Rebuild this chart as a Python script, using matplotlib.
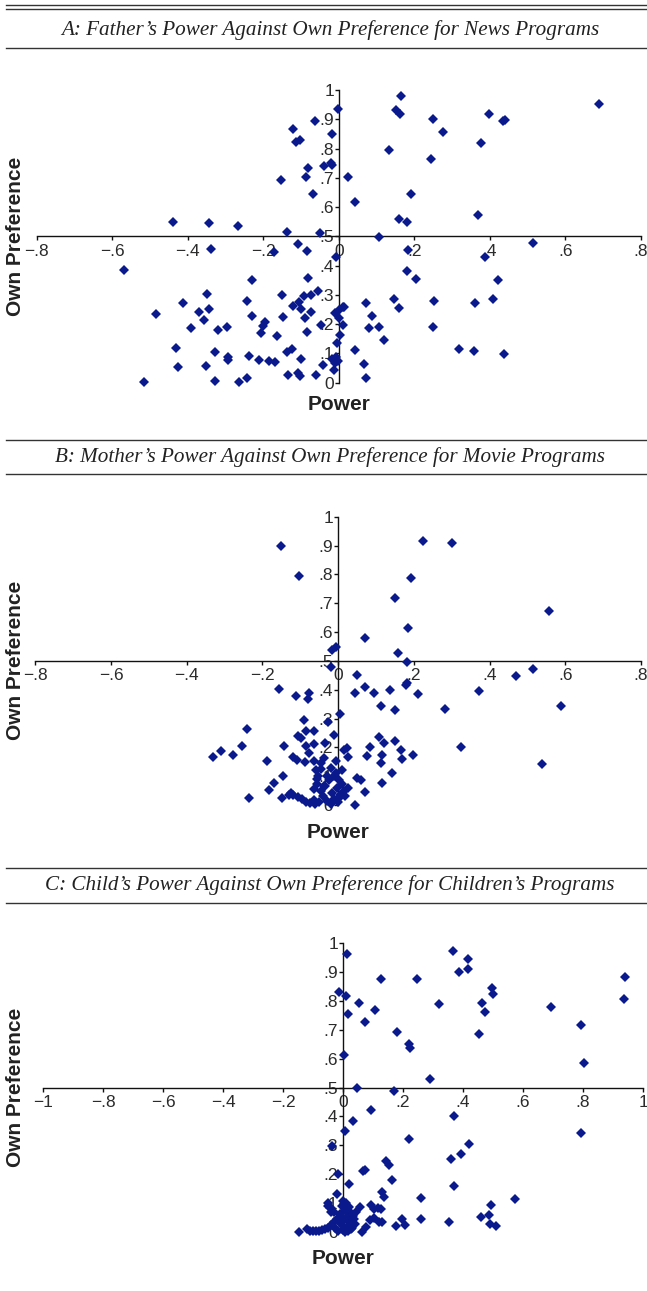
import matplotlib
matplotlib.use("Agg")
import matplotlib.pyplot as plt
from matplotlib.lines import Line2D

# ---- data ----
title_a = "A: Father\u2019s Power Against Own Preference for News Programs"
title_b = "B: Mother\u2019s Power Against Own Preference for Movie Programs"
title_c = "C: Child\u2019s Power Against Own Preference for Children\u2019s Programs"

x_ticks_ab = [-0.8, -0.6, -0.4, -0.2, 0, 0.2, 0.4, 0.6, 0.8]
x_labels_ab = ["\u2212.8", "\u2212.6", "\u2212.4", "\u2212.2", "0", ".2", ".4", ".6", ".8"]
x_ticks_c = [-1, -0.8, -0.6, -0.4, -0.2, 0, 0.2, 0.4, 0.6, 0.8, 1]
x_labels_c = ["\u22121", "\u2212.8", "\u2212.6", "\u2212.4", "\u2212.2", "0", ".2", ".4", ".6", ".8", "1"]
y_ticks = [0, 0.1, 0.2, 0.3, 0.4, 0.5, 0.6, 0.7, 0.8, 0.9, 1]
y_labels = ["0", ".1", ".2", ".3", ".4", ".5", ".6", ".7", ".8", ".9", "1"]

a_power = [-0.440, -0.343, -0.266, -0.136, -0.002, -0.121, -0.114, -0.104, -0.064, -0.019,
           -0.081, -0.086, -0.040, -0.022, -0.018, -0.068, -0.152, 0.024, -0.050, -0.108,
           -0.084, -0.173, -0.338, -0.008, -0.568, -0.081, -0.229, -0.349, -0.151, -0.054,
           -0.073, -0.093, -0.105, -0.121, -0.100, -0.074, -0.090, -0.413, -0.485, -0.369,
           -0.343, -0.358, -0.392, -0.319, -0.296, -0.244, -0.229, -0.196, -0.202, -0.207,
           -0.163, -0.147, -0.085, -0.048, -0.431, -0.427, -0.516, -0.328, -0.352, -0.327,
           -0.293, -0.293, -0.264, -0.242, -0.239, -0.211, -0.185, -0.170, -0.136, -0.125,
           -0.099, -0.135, -0.108, -0.103, -0.060, -0.043, -0.013, -0.009, 0.000, 0.011,
           0.000, 0.011, 0.004, -0.005, -0.018, -0.007, -0.002, -0.009, 0.042, 0.164,
           0.151, 0.161, 0.132, 0.248, 0.277, 0.245, 0.192, 0.158, 0.181, 0.107,
           0.398, 0.434, 0.441, 0.376, 0.369, 0.689, 0.515, 0.183, 0.387, 0.181,
           0.205, 0.422, 0.073, 0.145, 0.158, 0.253, 0.361, 0.409, 0.013, 0.089,
           0.081, 0.107, 0.249, 0.120, 0.044, 0.318, 0.358, 0.438, 0.066, 0.073]
a_pref = [0.550, 0.547, 0.535, 0.516, 0.934, 0.866, 0.823, 0.829, 0.895, 0.849,
          0.732, 0.704, 0.740, 0.750, 0.743, 0.645, 0.692, 0.704, 0.510, 0.473,
          0.449, 0.447, 0.458, 0.430, 0.385, 0.359, 0.351, 0.304, 0.300, 0.312,
          0.301, 0.295, 0.277, 0.262, 0.251, 0.243, 0.222, 0.271, 0.234, 0.240,
          0.252, 0.214, 0.186, 0.180, 0.190, 0.279, 0.229, 0.208, 0.195, 0.169,
          0.160, 0.223, 0.174, 0.198, 0.117, 0.053, 0.003, 0.105, 0.058, 0.007,
          0.089, 0.078, 0.003, 0.017, 0.090, 0.078, 0.074, 0.071, 0.106, 0.114,
          0.082, 0.026, 0.032, 0.023, 0.026, 0.061, 0.042, 0.237, 0.248, 0.260,
          0.220, 0.196, 0.162, 0.137, 0.080, 0.087, 0.075, 0.068, 0.617, 0.979,
          0.932, 0.917, 0.795, 0.901, 0.855, 0.763, 0.645, 0.559, 0.548, 0.497,
          0.917, 0.895, 0.897, 0.820, 0.573, 0.951, 0.476, 0.453, 0.428, 0.382,
          0.353, 0.351, 0.271, 0.286, 0.255, 0.279, 0.271, 0.285, 0.259, 0.229,
          0.186, 0.191, 0.189, 0.146, 0.112, 0.114, 0.107, 0.098, 0.063, 0.017]

b_power = [-0.152, -0.103, -0.016, -0.007, -0.020, -0.156, -0.112, -0.078, -0.079, 0.005,
           -0.089, -0.027, -0.242, -0.107, -0.097, -0.086, -0.064, -0.010, -0.255, -0.143,
           -0.084, -0.064, -0.035, -0.310, -0.330, -0.279, -0.189, -0.119, -0.110, -0.077,
           -0.088, -0.064, -0.038, -0.044, -0.005, 0.015, 0.024, 0.026, -0.147, -0.170,
           -0.183, -0.125, -0.130, -0.149, -0.236, -0.058, -0.046, 0.223, 0.300, 0.192,
           0.149, 0.557, 0.072, 0.184, 0.158, 0.182, 0.050, 0.070, 0.044, 0.096,
           0.136, 0.178, 0.182, 0.211, 0.114, 0.149, 0.281, 0.371, 0.470, 0.516,
           0.589, 0.325, 0.539, 0.107, 0.120, 0.149, 0.085, 0.167, 0.076, 0.116,
           0.197, 0.169, 0.112, 0.142, 0.050, 0.060, 0.117, 0.011, 0.072, 0.019,
           0.002, 0.044, -0.120, -0.105, -0.095, -0.085, -0.075, -0.065, -0.060, -0.050,
           -0.040, -0.045, -0.035, -0.030, -0.025, -0.020, -0.015, -0.012, -0.010, -0.005,
           -0.003, 0.000, 0.003, 0.006, 0.010, -0.020, 0.015, -0.030, 0.025, -0.055,
           -0.053, -0.055, -0.064, -0.038]
b_pref = [0.899, 0.795, 0.538, 0.549, 0.478, 0.402, 0.378, 0.389, 0.368, 0.317,
          0.294, 0.289, 0.263, 0.241, 0.231, 0.256, 0.258, 0.243, 0.205, 0.206,
          0.205, 0.212, 0.216, 0.187, 0.165, 0.173, 0.154, 0.165, 0.156, 0.180,
          0.150, 0.154, 0.162, 0.145, 0.152, 0.190, 0.197, 0.168, 0.101, 0.075,
          0.051, 0.043, 0.035, 0.025, 0.023, 0.121, 0.124, 0.917, 0.910, 0.786,
          0.719, 0.674, 0.578, 0.613, 0.528, 0.495, 0.451, 0.410, 0.388, 0.387,
          0.399, 0.416, 0.422, 0.384, 0.345, 0.330, 0.332, 0.395, 0.448, 0.471,
          0.344, 0.200, 0.141, 0.235, 0.216, 0.222, 0.200, 0.191, 0.170, 0.175,
          0.173, 0.158, 0.147, 0.110, 0.092, 0.087, 0.075, 0.072, 0.046, 0.031,
          0.023, 0.001, 0.035, 0.027, 0.020, 0.012, 0.006, 0.018, 0.003, 0.010,
          0.030, 0.050, 0.065, 0.015, 0.085, 0.005, 0.040, 0.100, 0.020, 0.110,
          0.060, 0.010, 0.085, 0.035, 0.120, 0.130, 0.050, 0.100, 0.060, 0.090,
          0.101, 0.072, 0.054, 0.066]

c_power = [0.014, -0.013, 0.009, 0.017, 0.003, 0.007, -0.038, -0.016, 0.018, -0.022,
           -0.050, -0.039, -0.146, -0.122, -0.102, -0.082, 0.067, 0.164, 0.131, 0.136,
           0.056, 0.093, 0.103, 0.116, 0.125, 0.090, 0.103, 0.131, 0.118, 0.075,
           0.064, 0.175, 0.053, 0.073, 0.105, 0.127, 0.180, 0.219, 0.222, 0.245,
           0.319, 0.367, 0.388, 0.416, 0.416, 0.463, 0.472, 0.452, 0.496, 0.499,
           0.289, 0.045, 0.169, 0.693, 0.793, 0.803, 0.939, 0.937, 0.793, 0.094,
           0.034, 0.369, 0.219, 0.421, 0.361, 0.393, 0.144, 0.153, 0.072, 0.369,
           0.260, 0.574, 0.493, 0.461, 0.487, 0.195, 0.258, 0.354, 0.206, 0.491,
           0.511, 0.026, -0.110, -0.092, -0.070, -0.060, -0.050, -0.040, -0.030, -0.028,
           -0.020, -0.016, -0.010, -0.008, -0.005, 0.000, 0.000, 0.003, 0.005, 0.010,
           0.012, 0.015, 0.020, 0.022, 0.026, 0.030, 0.035, 0.040, 0.044, 0.006,
           -0.005, 0.017, 0.032, -0.030, -0.041, -0.052]
c_pref = [0.962, 0.832, 0.817, 0.754, 0.613, 0.349, 0.297, 0.201, 0.165, 0.132,
          0.090, 0.067, 0.000, 0.008, 0.001, 0.001, 0.212, 0.179, 0.138, 0.120,
          0.085, 0.091, 0.078, 0.083, 0.078, 0.040, 0.046, 0.035, 0.033, 0.017,
          0.000, 0.019, 0.792, 0.726, 0.769, 0.875, 0.691, 0.651, 0.636, 0.875,
          0.790, 0.973, 0.899, 0.944, 0.911, 0.792, 0.761, 0.684, 0.844, 0.823,
          0.528, 0.499, 0.488, 0.778, 0.717, 0.584, 0.884, 0.807, 0.343, 0.422,
          0.384, 0.401, 0.321, 0.304, 0.252, 0.268, 0.245, 0.231, 0.214, 0.160,
          0.116, 0.112, 0.093, 0.052, 0.059, 0.044, 0.044, 0.033, 0.023, 0.026,
          0.020, 0.009, 0.003, 0.004, 0.006, 0.010, 0.014, 0.022, 0.032, 0.012,
          0.045, 0.002, 0.060, 0.025, 0.090, 0.108, 0.006, 0.040, 0.075, 0.100,
          0.018, 0.055, 0.085, 0.032, 0.066, 0.012, 0.045, 0.026, 0.068, 0.000,
          0.050, 0.001, 0.055, 0.069, 0.081, 0.098]

# ---- layout (pixels of the 647x1291 picture) ----
W, H = 647, 1291
MARK = "#0a1a8c"
TEXT = "#2b2b2b"

panels = [
    # title, x, y, xlim, ticks, labels, axes box (x0, x1, ytop, ybottom), title y, rules, xlabel y
    (title_a, a_power, a_pref, (-0.8, 0.8), x_ticks_ab, x_labels_ab,
     (36.7, 641, 90, 382.7), 30, [5, 9, 48], 405),
    (title_b, b_power, b_pref, (-0.8, 0.8), x_ticks_ab, x_labels_ab,
     (35.3, 641, 516.7, 805), 457, [440, 474], 832),
    (title_c, c_power, c_pref, (-1, 1), x_ticks_c, x_labels_c,
     (43.3, 643, 943.3, 1231.7), 885, [868, 903], 1258),
]

fig = plt.figure(figsize=(W / 100, H / 100), dpi=100)

for title, xs, ys, xlim, xt, xl, box, ty, rules, xly in panels:
    x0, x1, yt, yb = box
    ax = fig.add_axes([x0 / W, 1 - yb / H, (x1 - x0) / W, (yb - yt) / H])
    ax.patch.set_visible(False)
    ax.set_xlim(xlim)
    ax.set_ylim(0, 1)

    ax.spines["top"].set_visible(False)
    ax.spines["right"].set_visible(False)
    ax.spines["left"].set_position(("data", 0))
    ax.spines["bottom"].set_position(("data", 0.5))
    for s in ("left", "bottom"):
        ax.spines[s].set_linewidth(1.0)
        ax.spines[s].set_color("#111111")

    ax.set_xticks(xt)
    ax.set_xticklabels(xl)
    ax.set_yticks(y_ticks)
    ax.set_yticklabels(y_labels)
    ax.tick_params(axis="x", direction="out", length=3, width=1, pad=2.5,
                   labelsize=12.5, labelcolor=TEXT, color="#111111")
    ax.tick_params(axis="y", direction="out", length=3, width=1, pad=0.5,
                   labelsize=12.5, labelcolor=TEXT, color="#111111")
    for lab in ax.get_xticklabels() + ax.get_yticklabels():
        lab.set_fontfamily("Liberation Sans")

    ax.plot(xs, ys, linestyle="none", marker="D", markersize=4.8,
            color=MARK, markeredgewidth=0, clip_on=False, zorder=3)

    # panel heading with rules
    fig.text(0.51, 1 - ty / H, title, ha="center", va="center",
             fontsize=15.2, fontstyle="italic", family="Liberation Serif", color="#222222")
    for ry in rules:
        fig.add_artist(Line2D([6 / W, 1], [1 - ry / H, 1 - ry / H],
                              transform=fig.transFigure, color="#333333", lw=1.0))

    fig.text(16 / W, 1 - (yt + yb) / 2 / H, "Own Preference", rotation=90,
             ha="center", va="center", fontsize=15, fontweight="bold",
             family="Liberation Sans", color="#222222")
    fig.text((x0 + x1) / 2 / W, 1 - xly / H, "Power", ha="center", va="center",
             fontsize=15, fontweight="bold", family="Liberation Sans", color="#222222")

plt.savefig("out.png", dpi=100)
plt.close()
